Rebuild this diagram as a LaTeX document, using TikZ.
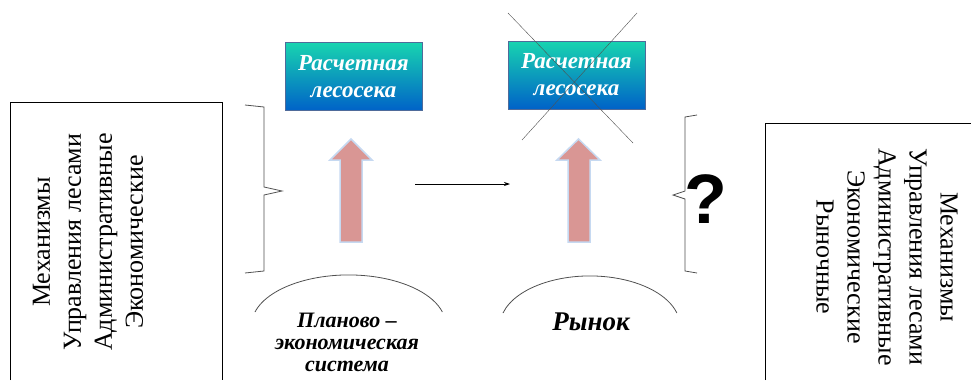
\documentclass[tikz,border=0pt]{standalone}
\usepackage{fontspec}
\setmainfont{Liberation Serif}
\newfontfamily\qfont{Liberation Sans}
\usetikzlibrary{arrows.meta,positioning}
\definecolor{tealtop}{HTML}{18D4B0}
\definecolor{bluebot}{HTML}{0062C8}
\definecolor{boxedge}{HTML}{4F6B9A}
\definecolor{pinkfill}{HTML}{D99694}
\definecolor{paleblue}{HTML}{C6D9F1}
\definecolor{linegray}{HTML}{505050}
\tikzset{
  mechtext/.style={align=center, font=\fontsize{26}{31}\selectfont},
  lesbox/.style={draw=boxedge, top color=tealtop, bottom color=bluebot,
    minimum width=137pt, minimum height=68pt, inner sep=0pt, align=center,
    text=white, font=\bfseries\itshape\fontsize{23}{27}\selectfont},
  systext/.style={align=center, font=\bfseries\itshape\fontsize{22}{22}\selectfont},
  pinkarrow/.style={fill=pinkfill, draw=paleblue, line width=1.5pt}
}
\begin{document}
\begin{tikzpicture}[x=1pt, y=-1pt]
  \useasboundingbox (0,0) rectangle (971,380);

  % Левая рамка: механизмы управления
  \draw[thick] (10,380) -- (10,102) -- (222,102) -- (222,380);
  \node[mechtext, rotate=90] (mechleft) at (88,242)
    {Механизмы\\Управления лесами\\Административные\\Экономические};

  % Правая рамка
  \draw[thick] (765,380) -- (765,123) -- (971,123);
  \node[mechtext, rotate=-90] (mechright) at (887,257)
    {Механизмы\\Управления лесами\\Административные\\Экономические\\Рыночные};

  % Расчетная лесосека
  \node[lesbox] (les1) at (353.5,76.5) {Расчетная\\лесосека};
  \node[lesbox] (les2) at (576.5,75) {Расчетная\\лесосека};

  % Крест поверх второй лесосеки
  \draw[linegray] (508,13) -- (633,143);
  \draw[linegray] (637,13) -- (522,140);

  % Стрелки вверх
  \filldraw[pinkarrow] (340,242) -- (340,160) -- (330,160) -- (351,139)
    -- (372,160) -- (362,160) -- (362,242) -- cycle;
  \filldraw[pinkarrow] (568,242) -- (568,160) -- (557,160) -- (578.5,139)
    -- (600,160) -- (590,160) -- (590,242) -- cycle;

  % Переход
  \coordinate (plan) at (415,184);
  \coordinate (market) at (510,184);
  \draw[-{Stealth[length=6pt,width=4pt]}, thick] (plan) -- (market);

  % Скобки
  \draw[linegray, thick] (245,105) -- (264,107) -- (264,187) -- (282,191)
    -- (264,195) -- (264,271) -- (245,273);
  \draw[linegray, thick] (697,115) -- (685,117) -- (685,191) -- (673,195)
    -- (685,199) -- (685,271) -- (697,273);
  \node[font=\qfont\bfseries\fontsize{70}{70}\selectfont] (quest) at (706,199) {?};

  % Системы
  \draw[linegray, thick] (255,312) arc[start angle=195, end angle=345,
    x radius=97, y radius=50];
  \draw[linegray, thick] (503,313) arc[start angle=195, end angle=345,
    x radius=90, y radius=50];
  \node[systext] (plansys) at (347,342) {Планово –\\экономическая\\система};
  \node[systext, font=\bfseries\itshape\fontsize{27}{28}\selectfont] (marketsys) at (591,322) {Рынок};
\end{tikzpicture}
\end{document}
